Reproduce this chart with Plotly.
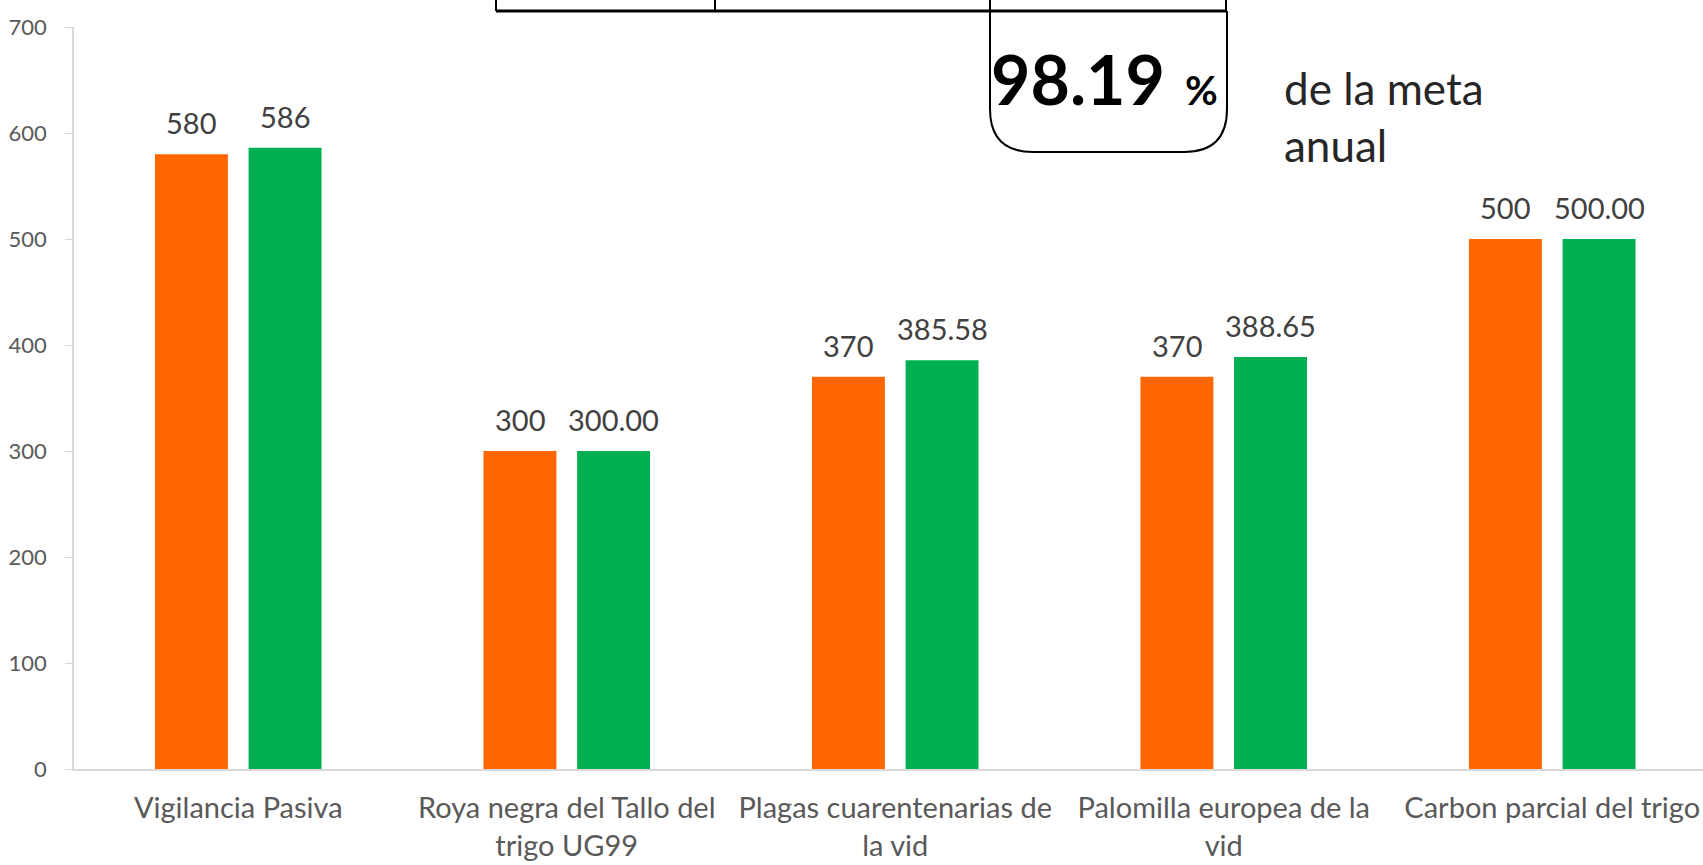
import plotly.graph_objects as go

# Data
categories = [
    "Vigilancia Pasiva",
    "Roya negra del Tallo del<br>trigo UG99",
    "Plagas cuarentenarias de<br>la vid",
    "Palomilla europea de la<br>vid",
    "Carbon parcial del trigo",
]
meta_values = [580, 300, 370, 370, 500]
meta_labels = ["580", "300", "370", "370", "500"]
logro_values = [586, 300, 385.58, 388.65, 500]
logro_labels = ["586", "300.00", "385.58", "388.65", "500.00"]
porcentaje_text = "98.19"

W, H = 1703, 865
L, R, T, B = 74, 0, 27, 96
FONT = "Lato, 'Open Sans', sans-serif"


def px(x):
    # page pixel -> paper x
    return (x - L) / (W - L - R)


def py(y):
    # page pixel -> paper y
    return (H - B - y) / (H - T - B)


fig = go.Figure()
fig.add_trace(go.Bar(x=categories, y=meta_values, name="Meta",
                     marker=dict(color="#FF6600", line=dict(width=0))))
fig.add_trace(go.Bar(x=categories, y=logro_values, name="Logro",
                     marker=dict(color="#00B050", line=dict(width=0))))

# data labels above each bar
shift = 46.8
for cat, v, t in zip(categories, meta_values, meta_labels):
    fig.add_annotation(x=cat, y=v, text=t, showarrow=False, xshift=-shift,
                       yanchor="bottom", yshift=12,
                       font=dict(family=FONT, size=29, color="#404040"))
for cat, v, t in zip(categories, logro_values, logro_labels):
    fig.add_annotation(x=cat, y=v, text=t, showarrow=False, xshift=shift,
                       yanchor="bottom", yshift=12,
                       font=dict(family=FONT, size=29, color="#404040"))

# partial table and rounded box at the top
line = dict(color="black", width=3)
fig.add_shape(type="line", xref="paper", yref="paper",
              x0=px(496), x1=px(1226), y0=py(11), y1=py(11), line=line)
for xv in [496, 715, 990, 1226]:
    fig.add_shape(type="line", xref="paper", yref="paper",
                  x0=px(xv), x1=px(xv), y0=py(-5), y1=py(11), line=dict(color="black", width=2))

x0, x1, y0, y1, r = 990, 1227, 11, 152, 43
path = (f"M {px(x0)},{py(y0)} L {px(x0)},{py(y1 - r)} "
        f"Q {px(x0)},{py(y1)} {px(x0 + r)},{py(y1)} "
        f"L {px(x1 - r)},{py(y1)} "
        f"Q {px(x1)},{py(y1)} {px(x1)},{py(y1 - r)} "
        f"L {px(x1)},{py(y0)}")
fig.add_shape(type="path", xref="paper", yref="paper", path=path,
              line=dict(color="black", width=2))

fig.add_annotation(xref="paper", yref="paper", x=px(1078), y=py(78),
                   text=f"<b>{porcentaje_text}</b>", showarrow=False,
                   xanchor="center", yanchor="middle",
                   font=dict(family=FONT, size=68, color="black"))
fig.add_annotation(xref="paper", yref="paper", x=px(1201), y=py(90),
                   text="<b>%</b>", showarrow=False,
                   xanchor="center", yanchor="middle",
                   font=dict(family=FONT, size=40, color="black"))
fig.add_annotation(xref="paper", yref="paper", x=px(1282), y=py(116),
                   text="de la meta<br>anual", showarrow=False, align="left",
                   xanchor="left", yanchor="middle",
                   font=dict(family=FONT, size=44, color="#262626"))

fig.update_layout(
    width=W, height=H,
    margin=dict(l=L, r=R, t=T, b=B, pad=0, autoexpand=False),
    plot_bgcolor="white", paper_bgcolor="white",
    barmode="group", bargap=0.43, bargroupgap=0.221,
    showlegend=False,
    font=dict(family=FONT, color="#595959"),
)
fig.update_xaxes(
    range=[-0.5, 4.459], showline=True, linecolor="#D9D9D9", linewidth=2,
    showgrid=False, ticks="", ticklabelstandoff=12, automargin=False,
    tickfont=dict(family=FONT, size=29, color="#595959"),
)
fig.update_yaxes(
    range=[0, 700], dtick=100, showline=True, linecolor="#D9D9D9", linewidth=1.5,
    showgrid=False, zeroline=False, ticks="outside", ticklen=7, tickcolor="#D9D9D9",
    ticklabelstandoff=14, automargin=False,
    tickfont=dict(family=FONT, size=22, color="#595959"),
)

# drop the browser's default body margin so the figure fills the window
fig.write_html("out.html", config={"displayModeBar": False},
               post_script="document.body.style.margin='0';")
